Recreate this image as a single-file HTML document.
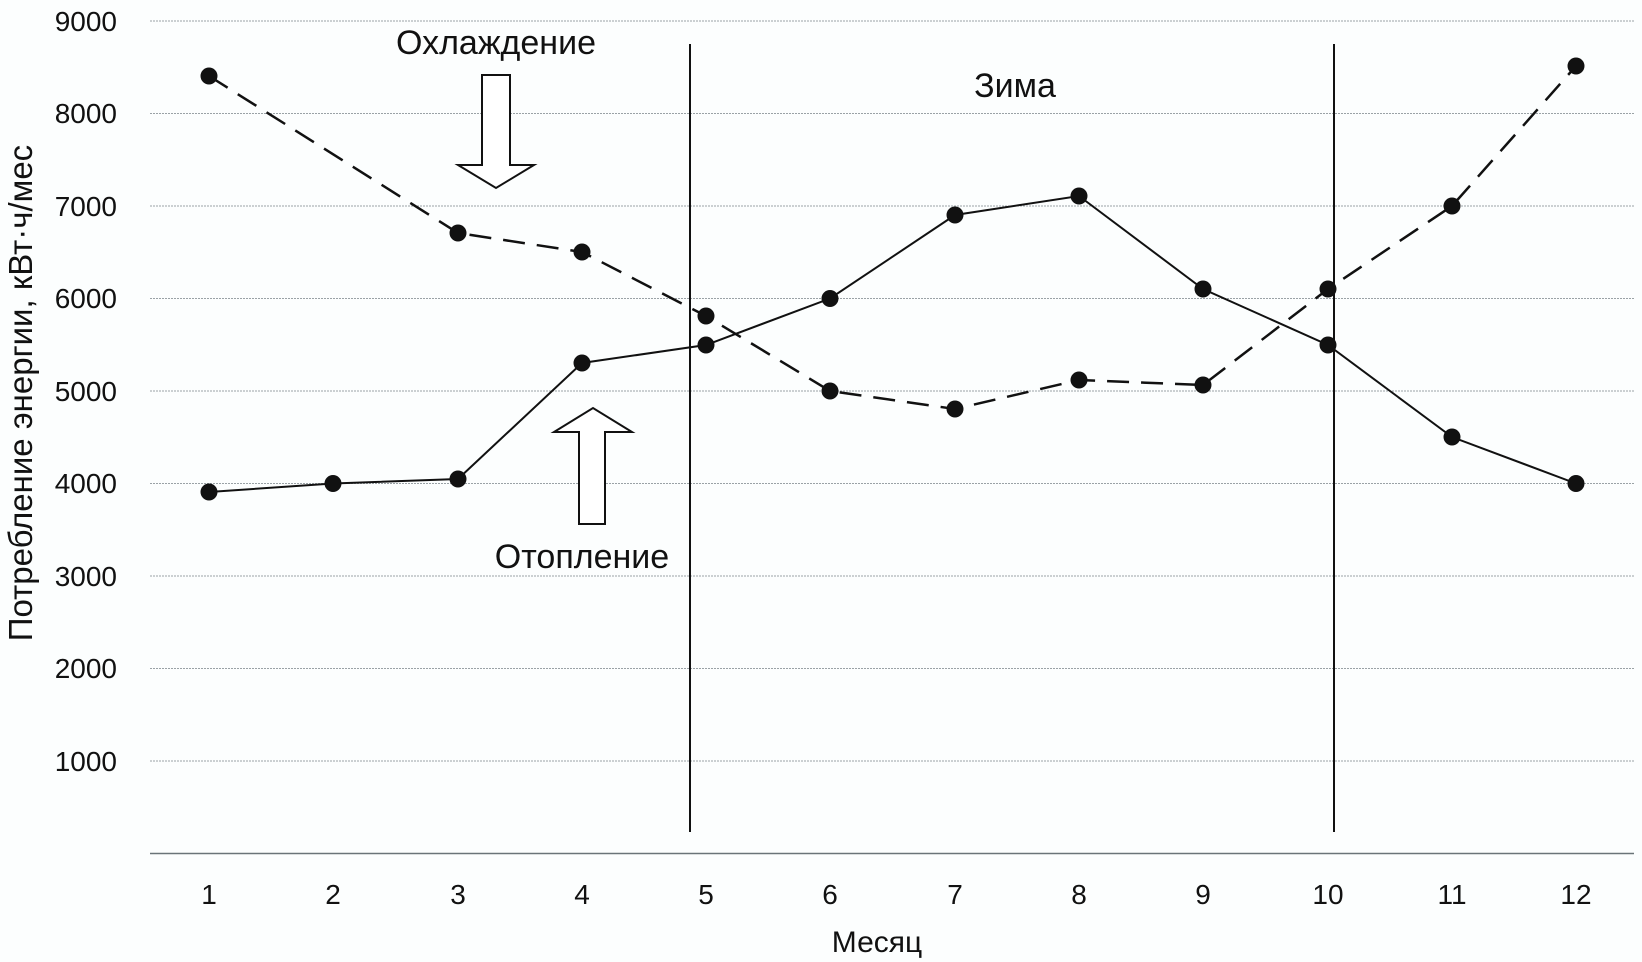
<!DOCTYPE html>
<html><head><meta charset="utf-8"><style>
html,body{margin:0;padding:0;background:#fcfefe;}
svg{display:block;font-family:"Liberation Sans",sans-serif;}
</style></head><body>
<svg width="1642" height="962" viewBox="0 0 1642 962" xmlns="http://www.w3.org/2000/svg">
<rect width="1642" height="962" fill="#fcfefe"/>
<g stroke="#9aa2a6" stroke-width="1" stroke-dasharray="2,1">
<line x1="150" x2="1634" y1="21" y2="21"/>
<line x1="150" x2="1634" y1="113.5" y2="113.5"/>
<line x1="150" x2="1634" y1="206" y2="206"/>
<line x1="150" x2="1634" y1="298.5" y2="298.5"/>
<line x1="150" x2="1634" y1="391" y2="391"/>
<line x1="150" x2="1634" y1="483.5" y2="483.5"/>
<line x1="150" x2="1634" y1="576" y2="576"/>
<line x1="150" x2="1634" y1="668.5" y2="668.5"/>
<line x1="150" x2="1634" y1="761" y2="761"/>
</g>
<line x1="150" x2="1634" y1="853.5" y2="853.5" stroke="#6a7478" stroke-width="1.5"/>
<g font-size="28" fill="#111" text-anchor="end">
<text x="117" y="31">9000</text><text x="117" y="123">8000</text><text x="117" y="216">7000</text>
<text x="117" y="308">6000</text><text x="117" y="401">5000</text><text x="117" y="493">4000</text>
<text x="117" y="586">3000</text><text x="117" y="678">2000</text><text x="117" y="771">1000</text>
</g>
<g font-size="28" fill="#111" text-anchor="middle">
<text x="209" y="904">1</text><text x="333" y="904">2</text><text x="458" y="904">3</text>
<text x="582" y="904">4</text><text x="706" y="904">5</text><text x="830" y="904">6</text>
<text x="955" y="904">7</text><text x="1079" y="904">8</text><text x="1203" y="904">9</text>
<text x="1328" y="904">10</text><text x="1452" y="904">11</text><text x="1576" y="904">12</text>
</g>
<g font-size="34" fill="#111" text-anchor="middle">
<text x="877" y="952" font-size="30">Месяц</text>
<text x="496" y="54">Охлаждение</text>
<text x="1015" y="97">Зима</text>
<text x="582" y="568">Отопление</text>
<text transform="translate(32,393) rotate(-90)" font-size="33">Потребление энергии, кВт·ч/мес</text>
</g>
<line x1="690" x2="690" y1="44" y2="832" stroke="#111" stroke-width="2"/>
<line x1="1334" x2="1334" y1="44" y2="832" stroke="#111" stroke-width="2"/>
<path d="M482,75 L510,75 L510,165 L534,165 L496,188 L458,165 L482,165 Z" fill="#fff" stroke="#111" stroke-width="2"/>
<path d="M579,524 L605,524 L605,432 L632,432 L593,408 L554,432 L579,432 Z" fill="#fff" stroke="#111" stroke-width="2"/>
<polyline fill="none" stroke="#111" stroke-width="2" points="209,492 333,483.5 458,479 582,363 706,345 830,298.5 955,215 1079,196 1203,289 1328,345 1452,437 1576,483.5"/>
<polyline fill="none" stroke="#111" stroke-width="2.5" stroke-dasharray="22,12" points="209,76 458,233 582,252 706,316 830,391 955,409 1079,380 1203,385 1328,289 1452,206 1576,66"/>
<g fill="#111">
<circle cx="209" cy="492" r="8.5"/><circle cx="333" cy="483.5" r="8.5"/><circle cx="458" cy="479" r="8.5"/>
<circle cx="582" cy="363" r="8.5"/><circle cx="706" cy="345" r="8.5"/><circle cx="830" cy="298.5" r="8.5"/>
<circle cx="955" cy="215" r="8.5"/><circle cx="1079" cy="196" r="8.5"/><circle cx="1203" cy="289" r="8.5"/>
<circle cx="1328" cy="345" r="8.5"/><circle cx="1452" cy="437" r="8.5"/><circle cx="1576" cy="483.5" r="8.5"/>
<circle cx="209" cy="76" r="8.5"/><circle cx="458" cy="233" r="8.5"/><circle cx="582" cy="252" r="8.5"/>
<circle cx="706" cy="316" r="8.5"/><circle cx="830" cy="391" r="8.5"/><circle cx="955" cy="409" r="8.5"/>
<circle cx="1079" cy="380" r="8.5"/><circle cx="1203" cy="385" r="8.5"/><circle cx="1328" cy="289" r="8.5"/>
<circle cx="1452" cy="206" r="8.5"/><circle cx="1576" cy="66" r="8.5"/>
</g>
</svg>
</body></html>
